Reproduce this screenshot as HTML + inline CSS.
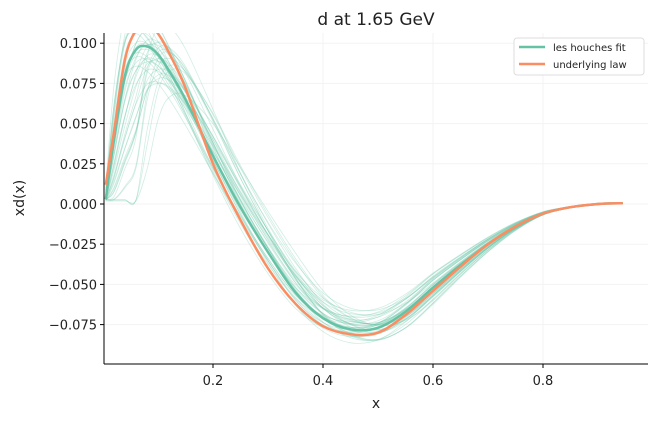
<!DOCTYPE html>
<html><head><meta charset="utf-8"><style>
body{margin:0;background:#fff;font-family:"Liberation Sans","DejaVu Sans",sans-serif}
svg text{font-family:"DejaVu Sans","Liberation Sans",sans-serif}
</style></head><body>
<svg id="c" width="656" height="420" viewBox="0 0 656 420">
<defs><clipPath id="clip"><rect x="104" y="33" width="544" height="331"/></clipPath></defs>
<text x="376" y="25" text-anchor="middle" font-size="17" fill="#222">d at 1.65 GeV</text>
<g id="grid"></g>
<g id="reps" clip-path="url(#clip)"></g>
<g id="main" clip-path="url(#clip)"></g>
<line x1="104" y1="33" x2="104" y2="364" stroke="#000" stroke-width="1"/>
<line x1="104" y1="364" x2="648" y2="364" stroke="#000" stroke-width="1"/>
<g id="ticks"></g>
<text x="376" y="408" text-anchor="middle" font-size="14" fill="#222">x</text>
<text transform="translate(24,198) rotate(-90)" text-anchor="middle" font-size="14" fill="#222">xd(x)</text>
<g>
<rect x="514" y="38" width="130" height="37" rx="3" fill="#fff" stroke="#ddd"/>
<line x1="519" y1="47" x2="545" y2="47" stroke="#66c2a5" stroke-width="2.5"/>
<text x="553" y="51" font-size="10" fill="#222">les houches fit</text>
<line x1="519" y1="64" x2="545" y2="64" stroke="#fc8d62" stroke-width="2.5"/>
<text x="553" y="68" font-size="10" fill="#222">underlying law</text>
</g>
</svg>
<script>
const xs=[0.005,0.02,0.04,0.06,0.08,0.1,0.12,0.15,0.2,0.25,0.3,0.35,0.4,0.45,0.5,0.55,0.6,0.65,0.7,0.75,0.8,0.85,0.9,0.945];
const fitVals=[0.003,0.040,0.080,0.096,0.098,0.093,0.083,0.065,0.030,-0.002,-0.030,-0.055,-0.071,-0.078,-0.077,-0.067,-0.052,-0.038,-0.025,-0.014,-0.006,-0.002,0,0.0005];
const lawVals=[0.012,0.045,0.090,0.108,0.112,0.106,0.094,0.072,0.025,-0.010,-0.040,-0.062,-0.076,-0.081,-0.080,-0.069,-0.054,-0.039,-0.025,-0.014,-0.006,-0.002,0,0.0005];
const repScaleLow=[1.15,0.85,1.05,0.9,1.2,0.95,0.75,1.1,1.0,0.88,1.25,0.8,1.08,0.93,1.18,0.7,1.02,0.97,1.12,0.86,0.9,1.3,0.78,1.05,0.95,1.15,0.82,1.0,1.1,0.92,0.6,1.22,0.88,1.06,0.98,0.84,1.14,0.9,1.03,0.76];
const repScaleHigh=[0.9,1.1,0.95,1.05,0.85,1.12,0.92,1.0,0.82,1.08,0.95,1.15,0.88,1.02,0.93,1.1,0.97,0.86,1.04,0.99,1.13,0.9,1.06,0.8,1.09,0.94,1.0,0.87,1.11,0.96,1.05,0.91,1.07,0.84,1.12,0.98,0.89,1.03,0.95,1.01];
const repShift=[0.01,-0.02,0.03,0,-0.01,0.04,0.02,-0.025,0.05,0.005,-0.03,0.03,0.015,-0.015,0.045,0.025,0,0.018,-0.02,0.06,0.008,-0.006,0.035,0.022,-0.015,0.01,0.065,0.002,-0.01,0.028,0.07,0.004,0.02,-0.005,0.04,0.012,-0.022,0.05,0.009,0.033];
const yTicks=[-0.075,-0.050,-0.025,0.000,0.025,0.050,0.075,0.100];
const xTicks=[0.2,0.4,0.6,0.8];
const X=v=>213+(v-0.2)*550, Y=v=>204-v*1608;
const NS='http://www.w3.org/2000/svg';
function mk(t,a,p){const e=document.createElementNS(NS,t);for(const k in a)e.setAttribute(k,a[k]);p.appendChild(e);return e;}
function interp(arr,x){if(x<=xs[0])return arr[0];for(let i=1;i<xs.length;i++){if(x<=xs[i]){const t=(x-xs[i-1])/(xs[i]-xs[i-1]);return arr[i-1]+t*(arr[i]-arr[i-1]);}}return arr[arr.length-1];}
function path(pts){let d='M'+pts[0][0].toFixed(1)+','+pts[0][1].toFixed(1);for(let i=0;i<pts.length-1;i++){const p0=pts[i-1]||pts[i],p1=pts[i],p2=pts[i+1],p3=pts[i+2]||p2;d+=' C'+(p1[0]+(p2[0]-p0[0])/6).toFixed(1)+','+(p1[1]+(p2[1]-p0[1])/6).toFixed(1)+' '+(p2[0]-(p3[0]-p1[0])/6).toFixed(1)+','+(p2[1]-(p3[1]-p1[1])/6).toFixed(1)+' '+p2[0].toFixed(1)+','+p2[1].toFixed(1);}return d;}
const grid=document.getElementById('grid'),ticks=document.getElementById('ticks');
yTicks.forEach(v=>{const g=mk('line',{x1:104,x2:648,y1:Y(v),y2:Y(v),stroke:'#f3f3f3','stroke-width':1},grid);

const l=mk('line',{x1:100,x2:104,y1:Y(v),y2:Y(v),stroke:'#000'},ticks);

const t=mk('text',{x:97,y:Y(v)+5,'text-anchor':'end','font-size':13,fill:'#222'},ticks);t.textContent=(v<0?'\u2212':'')+Math.abs(v).toFixed(3);
});
xTicks.forEach(v=>{const g=mk('line',{x1:X(v),x2:X(v),y1:33,y2:364,stroke:'#f3f3f3','stroke-width':1},grid);

const l=mk('line',{x1:X(v),x2:X(v),y1:364,y2:368,stroke:'#000'},ticks);

const t=mk('text',{x:X(v),y:385,'text-anchor':'middle','font-size':13,fill:'#222'},ticks);t.textContent=v.toFixed(1);
});
const reps=document.getElementById('reps');
repScaleLow.forEach((a,r)=>{const b=repScaleHigh[r],s=repShift[r];
const pts=xs.map(x=>{const w=Math.min(1,x/0.6);const ws=Math.max(0,1-x/0.8)*Math.min(1,x/0.06);const sx=Math.max(0.005,x-s*ws);return [X(x),Y(interp(fitVals,sx)*(a*(1-w)+b*w))];});
const p=mk('path',{d:path(pts),fill:'none',stroke:'#66c2a5','stroke-opacity':0.3,'stroke-width':0.8},reps);
});
const main=document.getElementById('main');
const f=mk('path',{d:path(xs.map((x,i)=>[X(x),Y(fitVals[i])])),fill:'none',stroke:'#66c2a5','stroke-width':2.5},main);

const l=mk('path',{d:path(xs.map((x,i)=>[X(x),Y(lawVals[i])])),fill:'none',stroke:'#fc8d62','stroke-width':2.5},main);

</script>
</body></html>
